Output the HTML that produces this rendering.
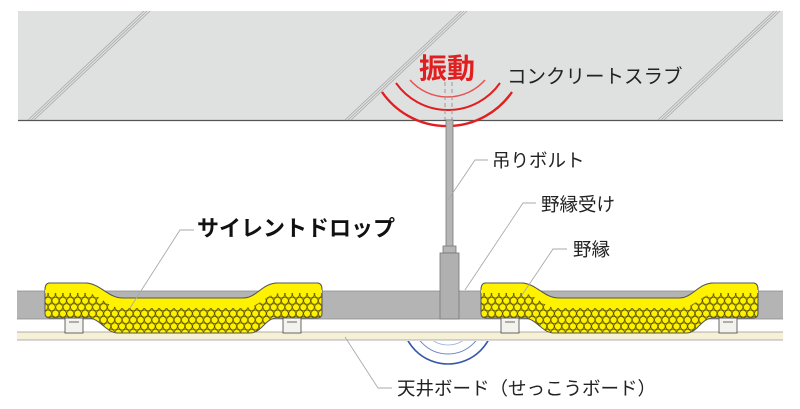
<!DOCTYPE html>
<html><head><meta charset="utf-8"><style>
html,body{margin:0;padding:0;background:#fff;}
svg{display:block;}
text{font-family:"Liberation Sans","Noto Sans CJK JP",sans-serif;}
</style></head><body>
<svg width="800" height="409" viewBox="0 0 800 409" xmlns="http://www.w3.org/2000/svg">
<defs>
<pattern id="hex" width="7.4" height="12.8" patternUnits="userSpaceOnUse">
<rect width="7.4" height="12.8" fill="#e8d800"/>
<circle cx="0" cy="0" r="3.5" fill="#fff200" stroke="#4a4400" stroke-width="0.7"/>
<circle cx="7.4" cy="0" r="3.5" fill="#fff200" stroke="#4a4400" stroke-width="0.7"/>
<circle cx="3.7" cy="6.4" r="3.5" fill="#fff200" stroke="#4a4400" stroke-width="0.7"/>
<circle cx="0" cy="12.8" r="3.5" fill="#fff200" stroke="#4a4400" stroke-width="0.7"/>
<circle cx="7.4" cy="12.8" r="3.5" fill="#fff200" stroke="#4a4400" stroke-width="0.7"/>
</pattern>
<clipPath id="below"><rect x="0" y="341" width="800" height="68"/></clipPath>
<g id="pad">
<g fill="#f4f2ec" stroke="#444" stroke-width="0.8">
<rect x="65" y="316" width="18" height="17"/>
<rect x="283" y="316" width="18" height="17"/>
<line x1="69" y1="322" x2="79" y2="322"/>
<line x1="287" y1="322" x2="297" y2="322"/>
</g>
<path d="M50,283 L85,283 C100,283 108,298 122,298 L243,298 C257,298 262,283 278,283 L317,283 Q322,283 322,290 L322,313 Q322,318 317,318 L277,318 C265,318 262,333 250,333 L118,333 C106,333 100,318 88,318 L50,318 Q45,318 45,313 L45,290 Q45,283 50,283 Z" fill="url(#hex)" stroke="#555" stroke-width="1"/>
<path d="M45,293 L45,290 Q45,283 50,283 L85,283 C100,283 108,298 122,298 L243,298 C257,298 262,283 278,283 L317,283 Q322,283 322,290 L322,293 L282,293 C265,293 260,308 243,308 L122,308 C106,308 100,293 85,293 Z" fill="#fff200"/>
<path d="M45,290 Q45,283 50,283 L85,283 C100,283 108,298 122,298 L243,298 C257,298 262,283 278,283 L317,283 Q322,283 322,290" fill="none" stroke="#555" stroke-width="1"/>
</g>
</defs>

<rect x="18" y="11" width="765" height="109" fill="#dfe0e0"/>
<line x1="18" y1="120.5" x2="783" y2="120.5" stroke="#555" stroke-width="1.2"/>
<g stroke="#a8a8a8" stroke-width="0.8" fill="none">
<line x1="28" y1="120" x2="144" y2="11"/><line x1="31" y1="120" x2="147" y2="11"/><line x1="34" y1="120" x2="150" y2="11"/>
<line x1="345" y1="120" x2="461" y2="11"/><line x1="348" y1="120" x2="464" y2="11"/><line x1="351" y1="120" x2="467" y2="11"/>
<line x1="658" y1="120" x2="774" y2="11"/><line x1="661" y1="120" x2="777" y2="11"/><line x1="664" y1="120" x2="780" y2="11"/>
</g>

<g fill="none" stroke="#e02020">
<path d="M382,92 A79,79 0 0 0 512,92" stroke-width="2.4"/>
<path d="M396,83 A63.6,63.6 0 0 0 500,83" stroke-width="2"/>
<path d="M410,80 A50,50 0 0 0 485,80" stroke-width="1.4" stroke="#e85050"/>
</g>
<g stroke="#999" stroke-width="1" stroke-dasharray="4,3">
<line x1="445" y1="82" x2="445" y2="120"/><line x1="452" y1="82" x2="452" y2="120"/>
</g>
<text x="419" y="78" font-size="28" font-weight="bold" fill="#e02020">振動</text>
<text x="507" y="83" font-size="19.5" fill="#222">コンクリートスラブ</text>

<rect x="17" y="291" width="766" height="28" fill="#b4b4b4"/>
<line x1="17" y1="291" x2="783" y2="291" stroke="#8a8a8a" stroke-width="0.8"/>
<line x1="17" y1="319" x2="783" y2="319" stroke="#8a8a8a" stroke-width="0.8"/>

<rect x="17" y="332" width="766" height="8" fill="#f6f0d6"/>
<line x1="17" y1="332" x2="783" y2="332" stroke="#999" stroke-width="0.8"/>
<line x1="17" y1="340" x2="783" y2="340" stroke="#999" stroke-width="0.8"/>

<rect x="446" y="120" width="7" height="130" fill="#b5b5b5" stroke="#777" stroke-width="0.8"/>
<rect x="443" y="246" width="13" height="7" fill="#b5b5b5" stroke="#777" stroke-width="0.8"/>
<rect x="440" y="253" width="19" height="66" fill="#b0b0b0" stroke="#777" stroke-width="0.8"/>

<use href="#pad"/>
<use href="#pad" transform="translate(436,0)"/>

<g clip-path="url(#below)" fill="none">
<circle cx="448" cy="318" r="46" stroke="#3456a8" stroke-width="1.6"/>
<circle cx="448" cy="318" r="36" stroke="#6a84c4" stroke-width="1"/>
<circle cx="448" cy="318" r="27" stroke="#9aaed8" stroke-width="0.8"/>
</g>

<g stroke="#aaa" stroke-width="0.9" fill="none">
<polyline points="130,308 180,230 194,230"/>
<polyline points="448,200 475,160 488,160"/>
<polyline points="465,290 523,203 536,203"/>
<polyline points="522,295 553,249 567,249"/>
<polyline points="345,337 378,388 392,388"/>
</g>

<text x="197" y="236" font-size="22" font-weight="bold" fill="#111">サイレントドロップ</text>
<text x="492" y="167" font-size="18.5" fill="#222">吊りボルト</text>
<text x="541" y="211" font-size="18.5" fill="#222">野縁受け</text>
<text x="573" y="256" font-size="18.5" fill="#222">野縁</text>
<text x="397" y="395" font-size="18.5" fill="#222">天井ボード（せっこうボード）</text>
</svg>
</body></html>
